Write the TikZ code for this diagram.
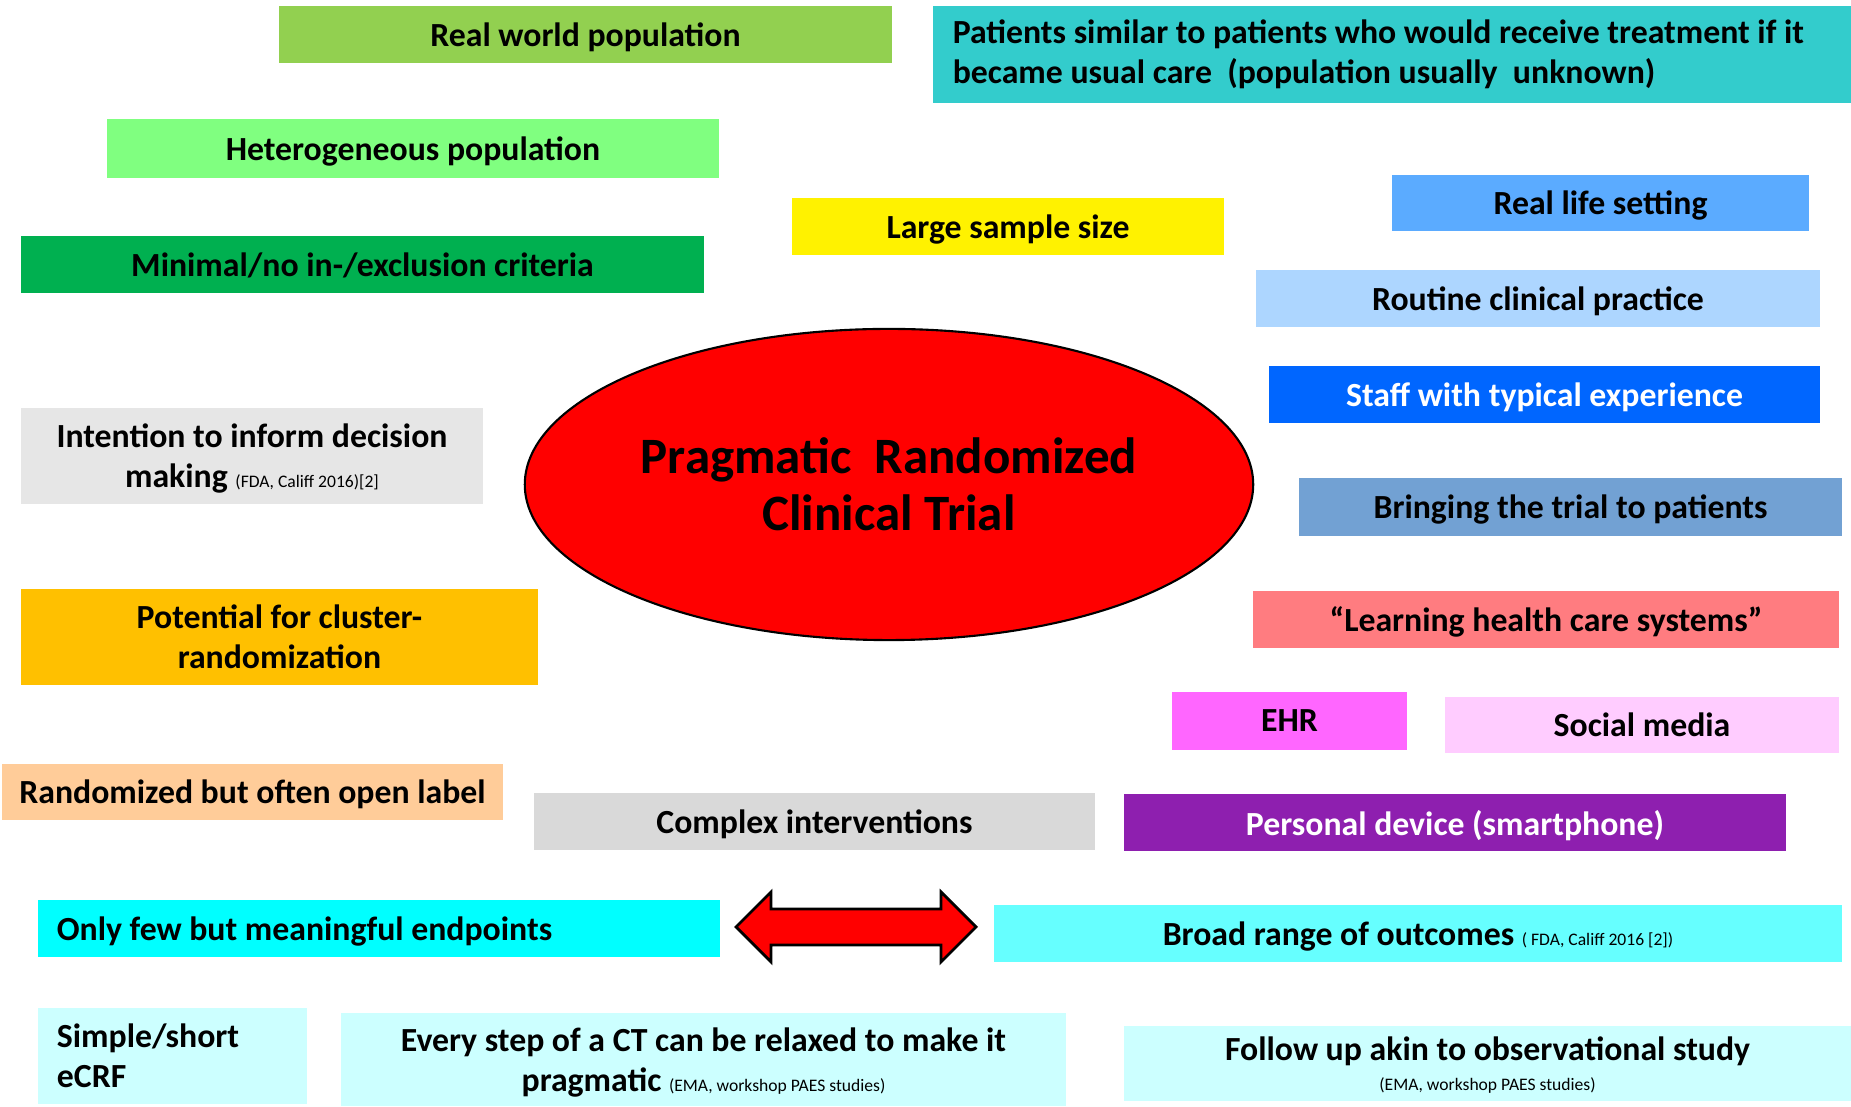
\documentclass[tikz,border=0pt]{standalone}
\usepackage{fontspec}
\setmainfont{Carlito}
\usepackage{tikz}
\usetikzlibrary{shapes.geometric}
\definecolor{rwgreen}{HTML}{92D050}
\definecolor{teal}{HTML}{33CCCC}
\definecolor{lightgreen}{HTML}{80FF80}
\definecolor{dkgreen}{HTML}{00B050}
\definecolor{sky}{HTML}{5BABFF}
\definecolor{paleblue}{HTML}{ADD6FF}
\definecolor{strongblue}{HTML}{0066FF}
\definecolor{steel}{HTML}{72A1D3}
\definecolor{lightgrey}{HTML}{E6E6E6}
\definecolor{midgrey}{HTML}{D9D9D9}
\definecolor{amber}{HTML}{FFC000}
\definecolor{salmon}{HTML}{FF7C80}
\definecolor{magenta}{HTML}{FF66FF}
\definecolor{lightpink}{HTML}{FFCCFF}
\definecolor{peach}{HTML}{FFCC99}
\definecolor{purple}{HTML}{8E1FAF}
\definecolor{aqua}{HTML}{00FFFF}
\definecolor{lightaqua}{HTML}{66FFFF}
\definecolor{paleaqua}{HTML}{CCFFFF}
\newcommand{\src}[1]{{\fontsize{5}{6}\selectfont\mdseries #1}}

\begin{document}
\begin{tikzpicture}[
    x=0.01cm, y=-0.01cm,
    normal/.style={rectangle, align=center, inner sep=0pt, minimum height=0.57cm, text depth=0pt,
      font=\fontsize{9.6}{11.4}\selectfont\bfseries},
    lefty/.style={rectangle, align=flush left, inner sep=0pt, inner xsep=0.19cm, minimum height=0.57cm,
      font=\fontsize{9.6}{11.4}\selectfont\bfseries}
  ]
  \def\edgewidth{0.8pt}
  \useasboundingbox (0,0) rectangle (1851,1107);

  \node[normal, fill=rwgreen, minimum width=6.13cm] (A) at (585.5,34.5) {Real world population};
  \node[lefty, fill=teal, text width=8.78cm, inner xsep=0.2cm, minimum height=0.97cm] (B) at (1392,54.5)
    {Patients similar to patients who would receive treatment if it\\became usual care\ \ (population usually\ \ unknown)};
  \node[normal, fill=lightgreen, minimum width=6.12cm, minimum height=0.59cm] (C) at (413,148.5) {Heterogeneous population};
  \node[normal, fill=yellow, minimum width=4.32cm] (D) at (1008,226.5) {Large sample size};
  \node[normal, fill=sky, minimum width=4.17cm, minimum height=0.56cm] (E) at (1600.5,203) {Real life setting};
  \node[normal, fill=dkgreen, minimum width=6.83cm] (F) at (362.5,264.5) {Minimal/no in-/exclusion criteria};
  \node[normal, fill=paleblue, minimum width=5.64cm] (G) at (1538,298.5) {Routine clinical practice};
  \node[normal, fill=strongblue, text=white, minimum width=5.51cm] (H) at (1544.5,394.5) {Staff with typical experience};
  \node[normal, fill=lightgrey, minimum width=4.62cm, minimum height=0.96cm] (I) at (252,456)
    {Intention to inform decision\\making \src{(FDA, Califf 2016)[2]}};

  \node[ellipse, draw, line width=0.6pt, fill=red, inner sep=0pt, minimum width=7.28cm, minimum height=3.11cm,
    align=center, text depth=0pt, font=\fontsize{14.5}{16.2}\selectfont\bfseries] (J) at (889,484.5)
    {Pragmatic\ \ Randomized\\Clinical Trial};

  \node[normal, fill=steel, minimum width=5.43cm, minimum height=0.58cm] (K) at (1570.5,507) {Bringing the trial to patients};
  \node[normal, fill=amber, minimum width=5.17cm, minimum height=0.96cm] (L) at (279.5,637)
    {Potential for cluster-\\randomization};
  \node[normal, fill=salmon, minimum width=5.86cm] (M) at (1546,619.5) {``Learning health care systems''};
  \node[normal, fill=magenta, minimum width=2.35cm, minimum height=0.58cm] (N) at (1289.5,721) {EHR};
  \node[normal, fill=lightpink, minimum width=3.94cm, minimum height=0.56cm] (O) at (1642,725) {Social media};
  \node[normal, fill=peach, minimum width=5.01cm, minimum height=0.56cm] (P) at (252.5,792) {Randomized but often open label};
  \node[normal, fill=midgrey, minimum width=5.61cm] (Q) at (814.5,821.5) {Complex interventions};
  \node[normal, fill=purple, text=white, minimum width=6.62cm] (R) at (1455,822.5) {Personal device (smartphone)};
  \node[lefty, fill=aqua, text width=6.44cm, text depth=0pt] (S) at (379,928.5) {Only few but meaningful endpoints};
  \node[normal, fill=lightaqua, minimum width=8.48cm] (T) at (1418,933.5)
    {Broad range of outcomes \src{( FDA, Califf 2016 [2])}};
  \node[lefty, fill=paleaqua, text width=2.31cm, minimum height=0.96cm] (U) at (172.5,1056) {Simple/short\\eCRF};
  \node[normal, fill=paleaqua, minimum width=7.25cm, minimum height=0.93cm] (V) at (703.5,1059.5)
    {Every step of a CT can be relaxed to make it\\pragmatic \src{(EMA, workshop PAES studies)}};
  \node[normal, fill=paleaqua, minimum width=7.27cm, minimum height=0.75cm] (W) at (1487.5,1063.5)
    {Follow up akin to observational study\\[-3pt]\src{(EMA, workshop PAES studies)}};

  \draw[fill=red, line width=\edgewidth, line join=miter]
    (736,927) -- (771,892) -- (771,909) -- (941,909) -- (941,892) -- (976,927)
    -- (941,962) -- (941,945) -- (771,945) -- (771,962) -- cycle;
\end{tikzpicture}
\end{document}
